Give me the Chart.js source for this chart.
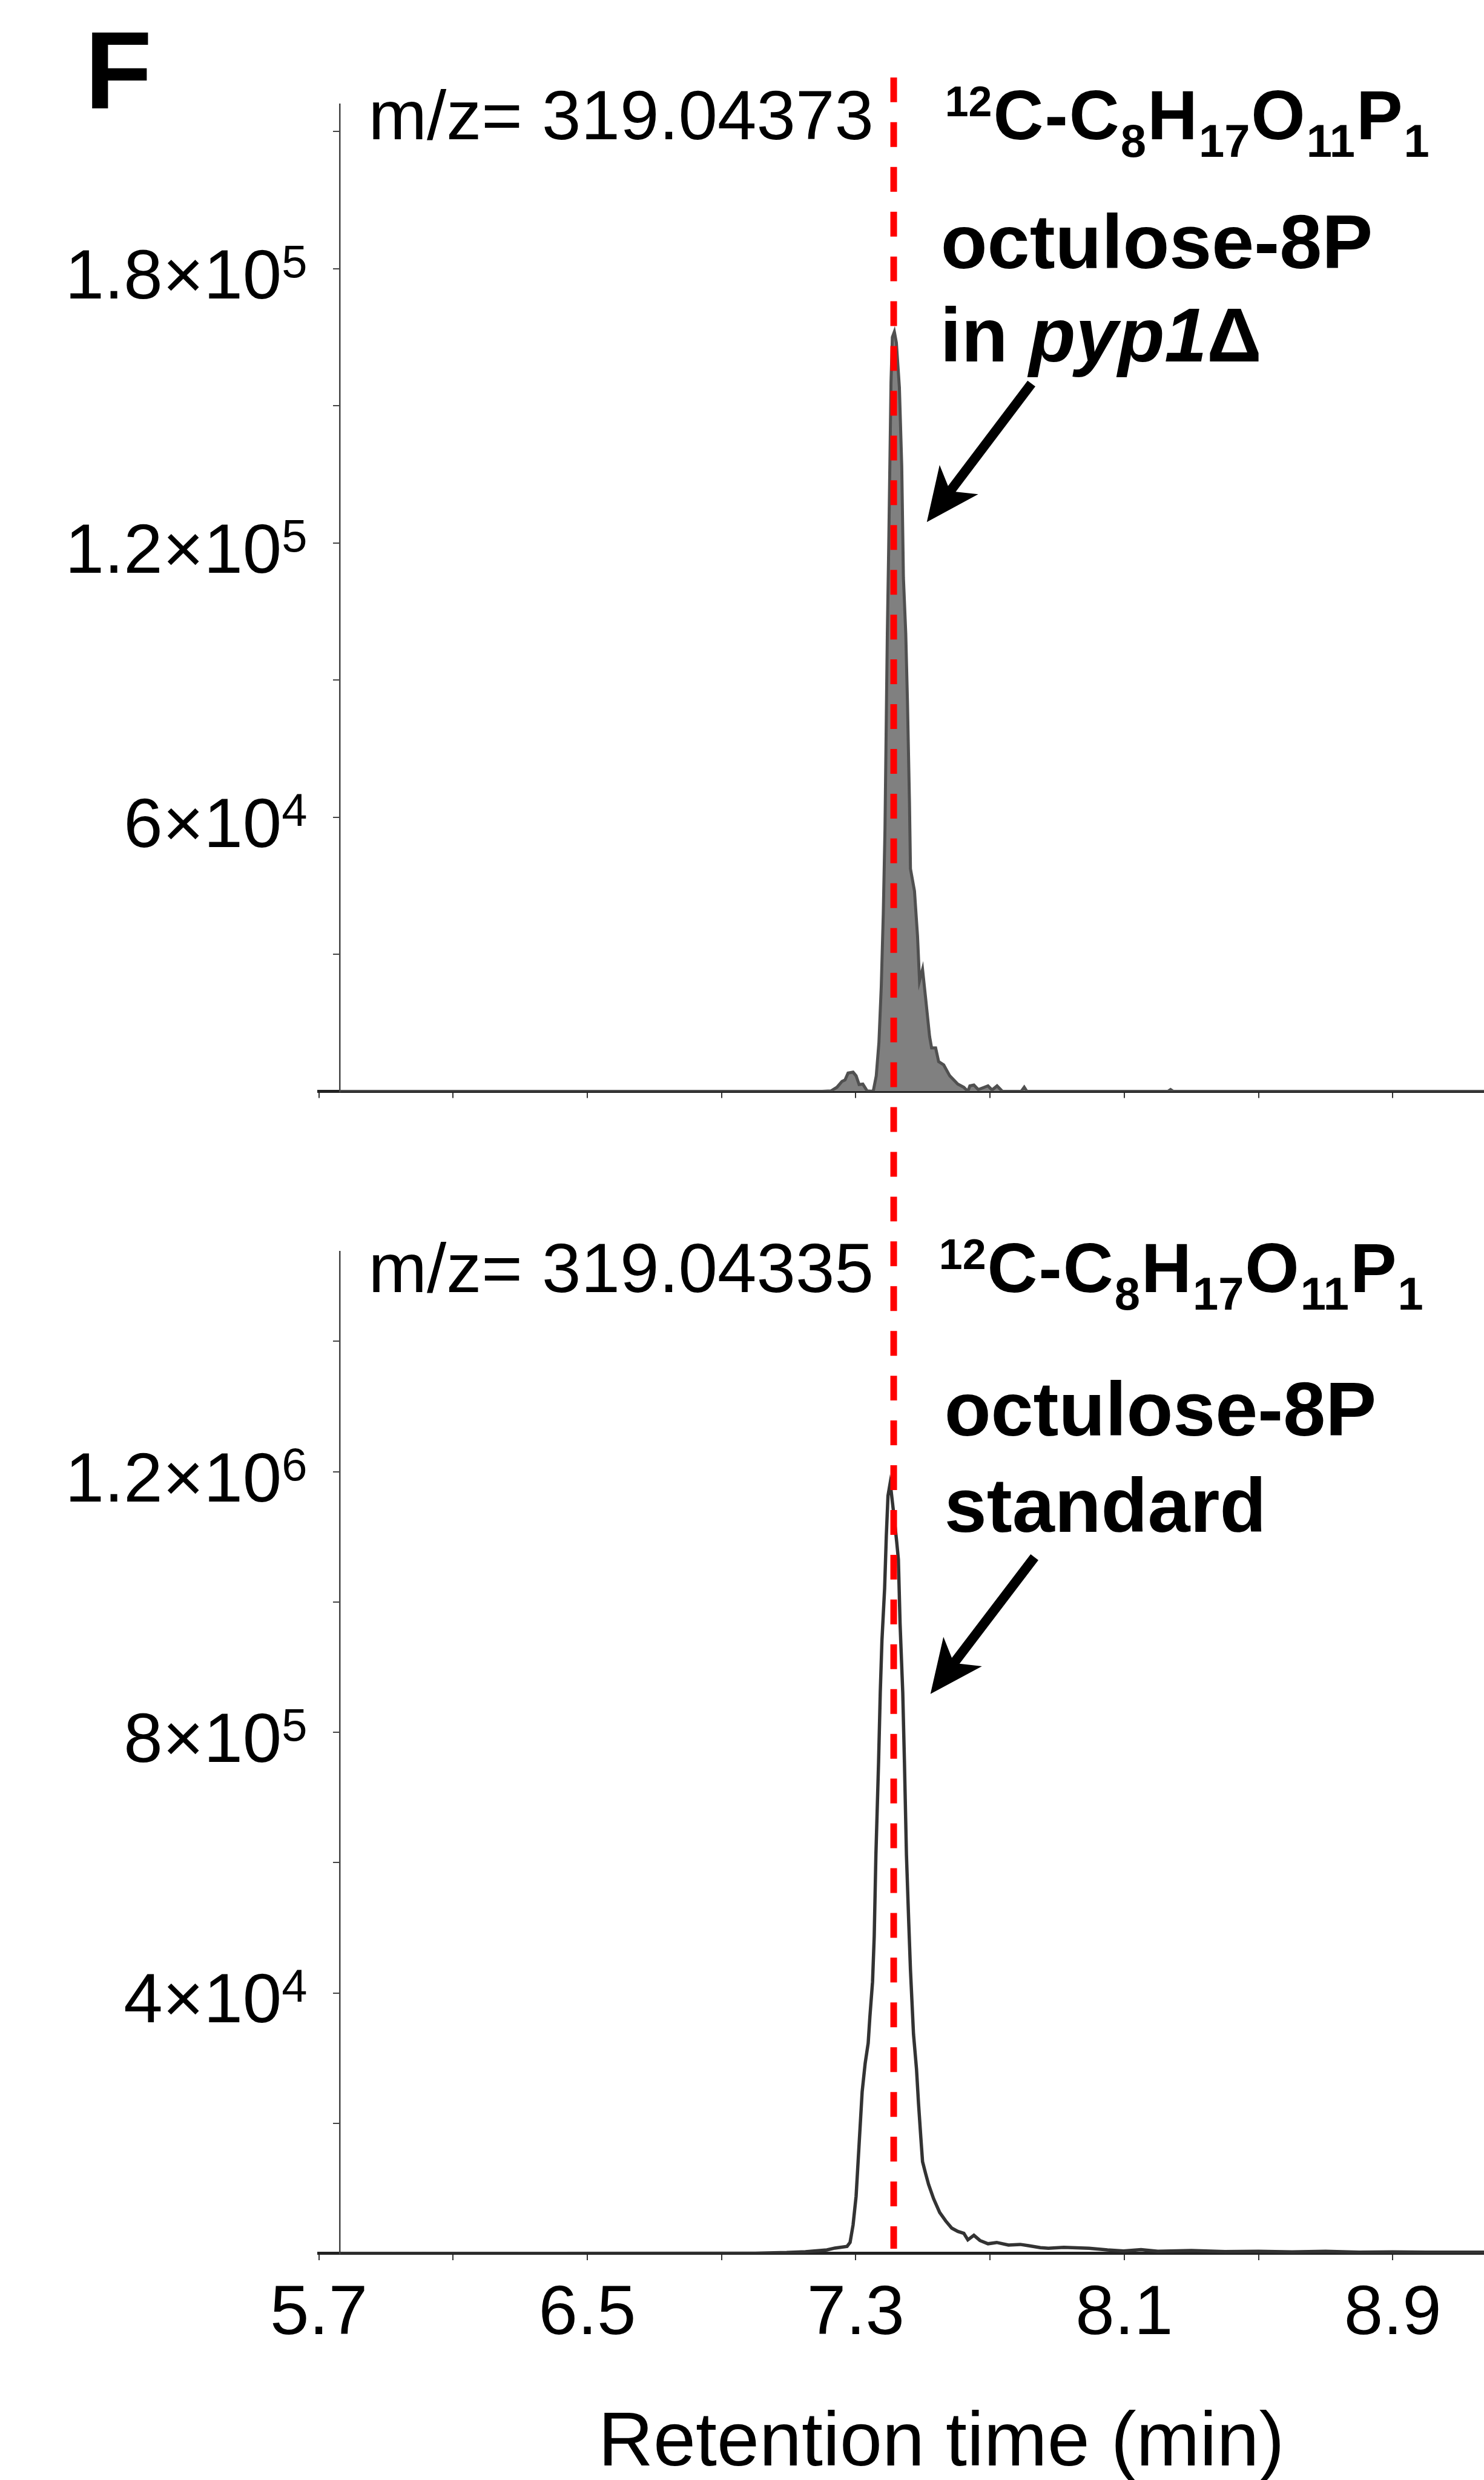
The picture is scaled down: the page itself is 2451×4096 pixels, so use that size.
<!DOCTYPE html>
<html>
<head>
<meta charset="utf-8">
<script src="https://cdn.jsdelivr.net/npm/chart.js@4.4.1/dist/chart.umd.min.js"></script>
<style>
  html, body { margin: 0; padding: 0; background: #fff; }
  #wrap { position: relative; width: 2451px; height: 4096px; overflow: hidden; }
  #wrap canvas { position: absolute; left: 0; top: 0; }
</style>
</head>
<body>
<div id="wrap">
  <canvas id="stdChart" width="2451" height="4096" style="z-index:1"></canvas>
  <canvas id="pypChart" width="2451" height="4096" style="z-index:2"></canvas>
</div>
<script>
const S = 2451 / 2453;   // whole figure drawn at this scale
const W = 2451, H = 4096;
const FONT = '"Liberation Sans", Arial, Helvetica, sans-serif';

// retention time axis (min)
const timeMin = 5.7, timeMax = 9.172;
const timeTicks = [5.7, 6.1, 6.5, 6.9, 7.3, 7.7, 8.1, 8.5, 8.9];
const timeTickLabels = ['5.7', '', '6.5', '', '7.3', '', '8.1', '', '8.9'];
const yAxisAt = 5.763;     // intensity axis sits a little right of the first tick
const markerTime = 7.413;  // red dashed retention marker

// octulose-8P in pyp1 delta, m/z 319.04373
const pypTime = [
  5.763, 7.2, 7.226, 7.244, 7.259, 7.268, 7.277, 7.292, 7.301, 7.31,
  7.321, 7.334, 7.352, 7.361, 7.369, 7.376, 7.382, 7.387, 7.391, 7.394,
  7.398, 7.402, 7.405, 7.409, 7.415, 7.421, 7.43, 7.437, 7.442, 7.449,
  7.454, 7.46, 7.463, 7.475, 7.484, 7.49, 7.499, 7.508, 7.52, 7.526,
  7.538, 7.547, 7.562, 7.58, 7.604, 7.622, 7.634, 7.64, 7.652, 7.665,
  7.683, 7.694, 7.706, 7.721, 7.737, 7.793, 7.802, 7.81, 8.23, 8.238,
  8.246, 9.172
];
const pypCounts = [
  0, 0, 100, 900, 2200, 2500, 4000, 4200, 3400, 1500,
  1600, 100, 0, 3400, 10700, 23000, 38900, 57300, 81800, 100100,
  118500, 139300, 155200, 165000, 166200, 163800, 154000, 136800, 112400, 100100,
  85400, 63400, 48700, 43800, 34000, 24200, 26700, 20500, 12000, 9500,
  9500, 6500, 5800, 3400, 1600, 900, 0, 1200, 1400, 400,
  900, 1200, 300, 1200, 0, 0, 900, 0, 0, 400,
  0, 0
];
const pypMax = 2.16e5;
const pypTicks = [0, 3e4, 6e4, 9e4, 1.2e5, 1.5e5, 1.8e5, 2.1e5];
const pypTickLabels = ['', '', '6×10⁴', '', '1.2×10⁵', '', '1.8×10⁵', ''];

// octulose-8P standard, m/z 319.04335
const stdTime = [
  5.763, 7.0, 7.094, 7.15, 7.214, 7.238, 7.274, 7.283, 7.292, 7.301,
  7.31, 7.319, 7.328, 7.337, 7.342, 7.35, 7.355, 7.36, 7.368, 7.373,
  7.378, 7.386, 7.391, 7.396, 7.402, 7.405, 7.413, 7.422, 7.427, 7.432,
  7.44, 7.445, 7.451, 7.458, 7.463, 7.472, 7.481, 7.487, 7.494, 7.499,
  7.508, 7.517, 7.532, 7.55, 7.568, 7.586, 7.604, 7.622, 7.634, 7.652,
  7.67, 7.694, 7.72, 7.755, 7.79, 7.815, 7.85, 7.874, 7.92, 7.995,
  8.05, 8.098, 8.15, 8.2, 8.3, 8.4, 8.5, 8.6, 8.7, 8.8,
  8.9, 9.0, 9.172
];
const stdCounts = [
  0, 500, 1500, 2800, 5600, 8400, 11000, 17000, 44000, 88000,
  168000, 248000, 292000, 323000, 363000, 417000, 487000, 612000, 755000, 861000,
  941000, 1021000, 1101000, 1163000, 1181000, 1172000, 1136000, 1092000, 1065000, 967000,
  861000, 755000, 612000, 506000, 435000, 337000, 283000, 230000, 177000, 141000,
  123000, 106000, 84000, 63000, 50000, 39000, 34000, 31000, 21000, 28000,
  20000, 15000, 17000, 13000, 14000, 12000, 9000, 8000, 9500, 8000,
  5500, 4000, 6000, 3500, 4500, 3000, 3500, 2500, 3500, 2000,
  2500, 2000, 2000
];
const stdMax = 1.5376e6;
const stdTicks = [0, 2e5, 4e5, 6e5, 8e5, 1e6, 1.2e6, 1.4e6];
const stdTickLabels = ['', '', '4×10⁴', '', '8×10⁵', '', '1.2×10⁶', ''];

Chart.defaults.font.family = FONT;
Chart.defaults.color = '#000';

const R = v => v * S;
const AXIS_BOX = 200;  // room kept under each plot for the time labels
function font(size, style) {
  return (style ? style + ' ' : '') + R(size) + 'px ' + FONT;
}

// text pieces written one after another on a shared baseline
function runs(ctx, x, y, parts, gap) {
  let cx = R(x);
  parts.forEach(([txt, f, dy]) => {
    ctx.font = f;
    ctx.fillText(txt, cx, R(y + (dy || 0)));
    cx += ctx.measureText(txt).width + R(gap || 0);
  });
}

function formula(ctx, x, y) {
  const big = font(115, 'bold'), sub = font(76, 'bold'), sup = font(70, 'bold');
  runs(ctx, x, y, [
    ['12', sup, -38], ['C', big], ['-', big], ['C', big], ['8', sub, 29],
    ['H', big], ['17', sub, 29], ['O', big], ['11', sub, 29], ['P', big], ['1', sub, 29]
  ], 2);
}

// intensity labels like 1.8×10⁵, exponent drawn as a real raised smaller number
const SUP = { '⁰': '0', '¹': '1', '²': '2', '³': '3', '⁴': '4', '⁵': '5', '⁶': '6', '⁷': '7', '⁸': '8', '⁹': '9' };
function powerLabels(chart, values, labels) {
  const ctx = chart.ctx;
  const right = chart.scales.x.getPixelForValue(yAxisAt) - R(54);
  ctx.save();
  ctx.fillStyle = '#000';
  ctx.textBaseline = 'alphabetic';
  ctx.textAlign = 'left';
  values.forEach((v, i) => {
    const lab = labels[i];
    if (!lab) return;
    const base = lab.slice(0, -1), exp = SUP[lab.slice(-1)];
    const y = chart.scales.y.getPixelForValue(v);
    ctx.font = font(76);
    const ew = ctx.measureText(exp).width;
    ctx.font = font(116);
    const bw = ctx.measureText(base).width;
    ctx.fillText(base, right - ew - bw, y + R(49));
    ctx.font = font(76);
    ctx.fillText(exp, right - ew, y + R(14));
  });
  ctx.restore();
}

function arrow(ctx, x0, y0, x1, y1) {
  const len = Math.hypot(x1 - x0, y1 - y0);
  const ux = (x1 - x0) / len, uy = (y1 - y0) / len, nx = -uy, ny = ux;
  const head = 88, half = 40, notch = 64;
  ctx.save();
  ctx.strokeStyle = '#000';
  ctx.fillStyle = '#000';
  ctx.lineWidth = R(16);
  ctx.beginPath();
  ctx.moveTo(R(x0), R(y0));
  ctx.lineTo(R(x1 - ux * (notch - 6)), R(y1 - uy * (notch - 6)));
  ctx.stroke();
  ctx.beginPath();
  ctx.moveTo(R(x1), R(y1));
  ctx.lineTo(R(x1 - ux * head + nx * half), R(y1 - uy * head + ny * half));
  ctx.lineTo(R(x1 - ux * notch), R(y1 - uy * notch));
  ctx.lineTo(R(x1 - ux * head - nx * half), R(y1 - uy * head - ny * half));
  ctx.closePath();
  ctx.fill();
  ctx.restore();
}

function panel(canvasId, area, times, counts, yMax, yTicks, showTimeLabels, line, notes) {
  return new Chart(document.getElementById(canvasId), {
    type: 'line',
    data: {
      datasets: [{
        data: times.map((t, i) => ({ x: t, y: counts[i] })),
        borderColor: line.color,
        borderWidth: R(line.width),
        backgroundColor: line.fill || 'transparent',
        fill: line.fill ? 'origin' : false,
        pointRadius: 0,
        tension: 0
      }]
    },
    options: {
      responsive: false,
      animation: false,
      devicePixelRatio: 1,
      layout: {
        padding: { left: R(527), right: 0, top: R(area[0]), bottom: H - R(area[1]) - R(AXIS_BOX) }
      },
      plugins: { legend: { display: false }, tooltip: { enabled: false } },
      scales: {
        x: {
          type: 'linear', position: 'bottom', min: timeMin, max: timeMax,
          afterBuildTicks: s => { s.ticks = timeTicks.map(v => ({ value: v })); },
          afterFit: s => { s.height = R(AXIS_BOX); },
          ticks: {
            display: showTimeLabels, autoSkip: false, maxRotation: 0,
            callback: (v, i) => timeTickLabels[i],
            font: { size: R(116) }, color: '#000', padding: R(21)
          },
          grid: { drawOnChartArea: false, tickLength: R(11), color: '#333', lineWidth: 2 },
          border: { color: '#222', width: 5 }
        },
        y: {
          type: 'linear', position: { x: yAxisAt }, min: 0, max: yMax,
          afterBuildTicks: s => { s.ticks = yTicks.map(v => ({ value: v })); },
          ticks: { display: false },
          grid: { drawOnChartArea: false, tickLength: R(10), color: '#444', lineWidth: 2 },
          border: { color: '#444', width: 2.5 }
        }
      }
    },
    plugins: [notes]
  });
}

// labels, arrow and the axis title for the standard trace
const stdNotes = {
  id: 'stdNotes',
  afterDraw(chart) {
    const ctx = chart.ctx;
    powerLabels(chart, stdTicks, stdTickLabels);
    ctx.save();
    ctx.fillStyle = '#000';
    ctx.textBaseline = 'alphabetic';
    runs(ctx, 609, 2136, [['m/z= 319.04335', font(116)]]);
    formula(ctx, 1552, 2136);
    runs(ctx, 1561, 2373, [['octulose-8P', font(126, 'bold')]]);
    runs(ctx, 1561, 2532, [['standard', font(126, 'bold')]]);
    arrow(ctx, 1710, 2574, 1538, 2800);
    ctx.font = font(126);
    ctx.textAlign = 'center';
    ctx.fillText('Retention time (min)', R(1556), R(4075));
    ctx.restore();
  }
};

// labels for the mutant trace plus the marker line running through both panels
const pypNotes = {
  id: 'pypNotes',
  afterDraw(chart) {
    const ctx = chart.ctx;
    powerLabels(chart, pypTicks, pypTickLabels);
    ctx.save();
    ctx.fillStyle = '#000';
    ctx.textBaseline = 'alphabetic';
    runs(ctx, 140, 179, [['F', font(182, 'bold')]]);
    runs(ctx, 609, 230, [['m/z= 319.04373', font(116)]]);
    formula(ctx, 1562, 230);
    runs(ctx, 1555, 443, [['octulose-8P', font(126, 'bold')]]);
    runs(ctx, 1554, 597, [
      ['in ', font(126, 'bold')], ['pyp1', font(126, 'italic bold')], ['Δ', font(126, 'bold')]
    ]);
    arrow(ctx, 1705, 634, 1532, 863);

    const x = chart.scales.x.getPixelForValue(markerTime);
    ctx.strokeStyle = '#ff0000';
    ctx.lineWidth = R(11);
    ctx.setLineDash([R(41), R(33)]);
    ctx.beginPath();
    ctx.moveTo(x, R(128));
    ctx.lineTo(x, R(3717));
    ctx.stroke();
    ctx.restore();
  }
};

panel('stdChart', [2069, 3725], stdTime, stdCounts, stdMax, stdTicks, true,
  { color: '#333333', width: 5.5 }, stdNotes);
panel('pypChart', [172, 1804], pypTime, pypCounts, pypMax, pypTicks, false,
  { color: '#505050', width: 5, fill: '#808080' }, pypNotes);
</script>
</body>
</html>
